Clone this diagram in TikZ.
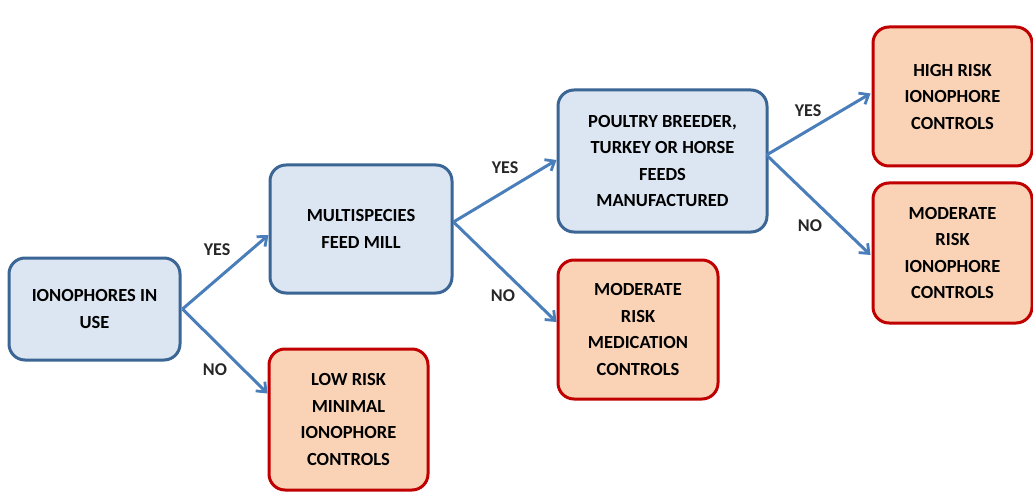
\documentclass[tikz,border=0pt]{standalone}
\usepackage{fontspec}
\setmainfont{Carlito}
\usetikzlibrary{arrows.meta}
\definecolor{bfill}{HTML}{DCE6F2}
\definecolor{bdraw}{HTML}{3A6595}
\definecolor{rfill}{HTML}{FAD3B6}
\definecolor{rdraw}{HTML}{C00000}
\definecolor{arr}{HTML}{4A7EBB}
\begin{document}
\begin{tikzpicture}[x=1pt,y=-1pt,
  box/.style={rounded corners=16pt, line width=3pt, align=center,
    font=\fontsize{18.5}{26.5}\selectfont\bfseries, inner sep=0pt},
  bluebox/.style={box, fill=bfill, draw=bdraw},
  redbox/.style={box, fill=rfill, draw=rdraw},
  conn/.style={draw=arr, line width=3pt, -{Straight Barb[length=8pt,width=13pt,line width=2.8pt]}},
  lbl/.style={font=\fontsize{18}{20}\selectfont\bfseries, text=black!85}]
\useasboundingbox (0,0) rectangle (1033,497);
\node[bluebox, minimum width=171pt, minimum height=102pt] (a) at (94.5,309) {IONOPHORES IN\\USE};
\node[bluebox, minimum width=182pt, minimum height=128pt] (b) at (361,229) {MULTISPECIES\\FEED MILL};
\node[redbox, minimum width=159pt, minimum height=141pt] (c) at (348.5,419.5) {LOW RISK\\MINIMAL\\IONOPHORE\\CONTROLS};
\node[bluebox, minimum width=209pt, minimum height=142pt] (d) at (662.5,161) {POULTRY BREEDER,\\TURKEY OR HORSE\\FEEDS\\MANUFACTURED};
\node[redbox, minimum width=160pt, minimum height=139pt] (e) at (638,329.5) {MODERATE\\RISK\\MEDICATION\\CONTROLS};
\node[redbox, minimum width=159pt, minimum height=139pt] (f) at (952.5,96.5) {HIGH RISK\\IONOPHORE\\CONTROLS};
\node[redbox, minimum width=159pt, minimum height=140pt] (g) at (952.5,253) {MODERATE\\RISK\\IONOPHORE\\CONTROLS};
\coordinate (aout) at ([xshift=1pt]a.east);
\coordinate (bout) at ([yshift=7pt]b.east);
\coordinate (dout) at ([xshift=-2pt,yshift=6pt]d.east);
\draw[conn] (aout) -- ([yshift=-6pt]b.west);
\draw[conn] (aout) -- ([yshift=26pt]c.west);
\draw[conn] (bout) -- ([yshift=1pt]d.west);
\draw[conn] (bout) -- ([yshift=7.5pt]e.west);
\draw[conn] (dout) -- ([xshift=-1pt,yshift=3pt]f.west);
\draw[conn] (dout) -- ([xshift=-1pt,yshift=-2pt]g.west);
\node[lbl] (l1) at (217,250) {YES};
\node[lbl] (l2) at (215,370) {NO};
\node[lbl] (l3) at (505,168) {YES};
\node[lbl] (l4) at (503,296) {NO};
\node[lbl] (l5) at (808,111) {YES};
\node[lbl] (l6) at (810,226) {NO};
\end{tikzpicture}
\end{document}
